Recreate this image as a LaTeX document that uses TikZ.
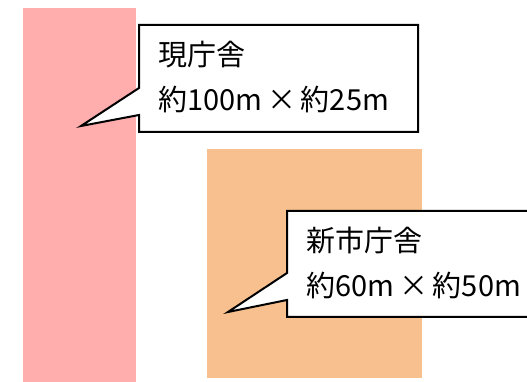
\documentclass[tikz,border=0pt]{standalone}
\usepackage{fontspec}
\setmainfont{Noto Sans CJK JP}
\definecolor{pinkbld}{RGB}{255,173,173}
\definecolor{orangebld}{RGB}{248,192,142}
\begin{document}
\begin{tikzpicture}[x=1pt,y=1pt,
  callout/.style={draw=black,line width=2pt,fill=white,line join=miter},
  lbl/.style={anchor=base west,inner sep=0pt,font=\fontsize{29}{34}\selectfont}]
\useasboundingbox (0,0) rectangle (527,382);
\clip (0,0) rectangle (527,382);
\fill[pinkbld] (23,0) rectangle (136,374);
\fill[orangebld] (207,4) rectangle (422,233);
% callout 1
\coordinate (t1) at (81,256);
\draw[callout] (139,357) -- (418,357) -- (418,250) -- (139,250) -- (139,267) -- (t1) -- (139,294) -- cycle;
\node[lbl] (n1a) at (158,316) {現庁舎};
\node[lbl] (n1b) at (158,271) {約100m\,×\,約25m};
% callout 2
\coordinate (t2) at (228,70);
\draw[callout] (287,171) -- (545,171) -- (545,65) -- (287,65) -- (287,82) -- (t2) -- (287,109) -- cycle;
\node[lbl] (n2a) at (306,130) {新市庁舎};
\node[lbl] (n2b) at (306,85) {約60m\,×\,約50m};
\end{tikzpicture}
\end{document}
